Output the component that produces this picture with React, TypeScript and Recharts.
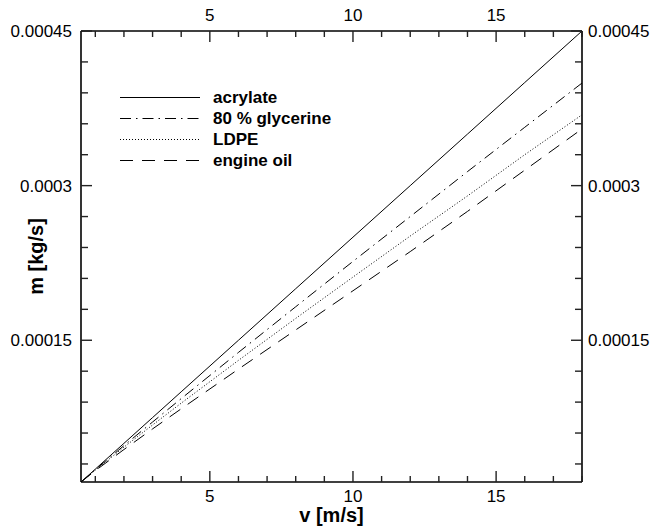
import { LineChart, Line, XAxis, YAxis, Legend } from 'recharts';

const FONT = '"Liberation Sans", Arial, sans-serif';

// v [m/s]
const speeds = [0.5, 1, 2, 3, 4, 6, 8, 10, 12, 14, 16, 18];
// m [kg/s]
const acrylate = [0.0000125, 0.000025, 0.00005, 0.000075, 0.0001, 0.00015, 0.0002, 0.00025, 0.0003, 0.00035, 0.0004, 0.00045];
const glycerine = [0.0000125, 0.0000244, 0.0000478, 0.0000707, 0.0000934, 0.0001382, 0.0001825, 0.0002265, 0.00027, 0.0003136, 0.0003566, 0.0003995];
const ldpe = [0.0000125, 0.000024, 0.0000463, 0.0000678, 0.000089, 0.0001305, 0.0001712, 0.0002113, 0.0002511, 0.00029, 0.00033, 0.0003687];
const engineOil = [0.0000125, 0.0000235, 0.000044, 0.000064, 0.0000835, 0.000122, 0.00016, 0.000198, 0.000236, 0.000275, 0.000315, 0.000355];

const xTicks = [1, 2, 3, 4, 5, 6, 7, 8, 9, 10, 11, 12, 13, 14, 15, 16, 17, 18];
const xLabels = [5, 10, 15];
const yTicks = [0.00003, 0.00006, 0.00009, 0.00012, 0.00015, 0.00018, 0.00021, 0.00024, 0.00027, 0.0003, 0.00033, 0.00036, 0.00039, 0.00042, 0.00045];
const yLabels = ['0.00015', '0.0003', '0.00045'];

const SERIES = [
  { key: 'acrylate', name: 'acrylate', dash: undefined as string | undefined },
  { key: 'glycerine', name: '80 % glycerine', dash: '11 5 1.5 5' },
  { key: 'ldpe', name: 'LDPE', dash: '1 2' },
  { key: 'engineOil', name: 'engine oil', dash: '13 9' },
];

const data = speeds.map((v, i) => ({
  v,
  acrylate: acrylate[i],
  glycerine: glycerine[i],
  ldpe: ldpe[i],
  engineOil: engineOil[i],
}));

const isYMajor = (v: number) => yLabels.some((l) => Math.abs(Number(l) - v) < 1e-9);
const yLabelOf = (v: number) => yLabels.find((l) => Math.abs(Number(l) - v) < 1e-9);

const TICK_COLOR = '#222';
const TICK_W = 1.4;

const BottomTick = (props: any) => {
  const x = Number(props.x);
  const y = Number(props.y);
  const major = xLabels.includes(props.payload.value);
  return (
    <g>
      <path d={`M${x},${y}V${y - (major ? 11 : 6)}`} stroke={TICK_COLOR} strokeWidth={TICK_W} fill="none" />
      {major && (
        <text x={x} y={y + 19.5} textAnchor="middle" fontSize={17} fontFamily={FONT} fill="#000">
          {props.payload.value}
        </text>
      )}
    </g>
  );
};

const TopTick = (props: any) => {
  const x = Number(props.x);
  const y = Number(props.y);
  const major = xLabels.includes(props.payload.value);
  return (
    <g>
      <path d={`M${x},${y}V${y + (major ? 11 : 6)}`} stroke={TICK_COLOR} strokeWidth={TICK_W} fill="none" />
      {major && (
        <text x={x} y={y - 10} textAnchor="middle" fontSize={17} fontFamily={FONT} fill="#000">
          {props.payload.value}
        </text>
      )}
    </g>
  );
};

const LeftTick = (props: any) => {
  const x = Number(props.x);
  const y = Number(props.y);
  const major = isYMajor(props.payload.value);
  return (
    <g>
      <path d={`M${x},${y}H${x + (major ? 11 : 7)}`} stroke={TICK_COLOR} strokeWidth={TICK_W} fill="none" />
      {major && (
        <text x={x - 9} y={y + 6} textAnchor="end" fontSize={17} fontFamily={FONT} fill="#000">
          {yLabelOf(props.payload.value)}
        </text>
      )}
    </g>
  );
};

const RightTick = (props: any) => {
  const x = Number(props.x);
  const y = Number(props.y);
  const major = isYMajor(props.payload.value);
  return (
    <g>
      <path d={`M${x},${y}H${x - (major ? 11 : 7)}`} stroke={TICK_COLOR} strokeWidth={TICK_W} fill="none" />
      {major && (
        <text x={x + 6} y={y + 6} textAnchor="start" fontSize={17} fontFamily={FONT} fill="#000">
          {yLabelOf(props.payload.value)}
        </text>
      )}
    </g>
  );
};

const renderLegend = () => (
  <div style={{ fontFamily: FONT, fontWeight: 'bold', fontSize: 17, color: '#000' }}>
    {SERIES.map((s) => (
      <div key={s.key} style={{ display: 'flex', alignItems: 'center', height: 21 }}>
        <svg width={80} height={21} style={{ display: 'block' }}>
          <line x1={0} x2={80} y1={10.5} y2={10.5} stroke="#000" strokeWidth={1} strokeDasharray={s.dash} />
        </svg>
        <span style={{ marginLeft: 13, lineHeight: '21px', whiteSpace: 'nowrap' }}>{s.name}</span>
      </div>
    ))}
  </div>
);

const axisLine = { stroke: '#000', strokeWidth: 1.6 };

export default function App() {
  return (
    <div style={{ position: 'absolute', left: 0, top: 0, width: 654, height: 528, background: '#fff' }}>
      <LineChart width={654} height={528} data={data} margin={{ top: 0, right: 0, bottom: 0, left: 0 }}>
        <XAxis
          xAxisId="b"
          dataKey="v"
          type="number"
          domain={[0.5, 18]}
          allowDataOverflow
          ticks={xTicks}
          interval={0}
          height={46}
          tickSize={0}
          tickMargin={0}
          axisLine={axisLine}
          tickLine={false}
          tick={(p: any) => <BottomTick {...p} />}
          label={{ value: 'v [m/s]', position: 'center', dy: 10, fontSize: 20, fontWeight: 'bold', fontFamily: FONT, fill: '#000' }}
        />
        <XAxis
          xAxisId="t"
          orientation="top"
          dataKey="v"
          type="number"
          domain={[0.5, 18]}
          allowDataOverflow
          ticks={xTicks}
          interval={0}
          height={31}
          tickSize={0}
          tickMargin={0}
          axisLine={axisLine}
          tickLine={false}
          tick={(p: any) => <TopTick {...p} />}
        />
        <YAxis
          yAxisId="l"
          type="number"
          domain={[0.0000125, 0.00045]}
          allowDataOverflow
          ticks={yTicks}
          interval={0}
          width={81}
          tickSize={0}
          tickMargin={0}
          axisLine={axisLine}
          tickLine={false}
          tick={(p: any) => <LeftTick {...p} />}
          label={{ value: 'm [kg/s]', angle: -90, position: 'center', dx: -5, fontSize: 20, fontWeight: 'bold', fontFamily: FONT, fill: '#000' }}
        />
        <YAxis
          yAxisId="r"
          orientation="right"
          type="number"
          domain={[0.0000125, 0.00045]}
          allowDataOverflow
          ticks={yTicks}
          interval={0}
          width={72}
          tickSize={0}
          tickMargin={0}
          axisLine={axisLine}
          tickLine={false}
          tick={(p: any) => <RightTick {...p} />}
        />
        <Legend
          layout="vertical"
          align="center"
          verticalAlign="middle"
          content={renderLegend}
          wrapperStyle={{ left: 120, top: 87, width: 'auto', height: 'auto' }}
        />
        {SERIES.map((s) => (
          <Line
            key={s.key}
            xAxisId="b"
            yAxisId="l"
            type="linear"
            dataKey={s.key}
            name={s.name}
            stroke="#000"
            strokeWidth={1}
            strokeDasharray={s.dash}
            dot={false}
            activeDot={false}
            isAnimationActive={false}
          />
        ))}
      </LineChart>
    </div>
  );
}
